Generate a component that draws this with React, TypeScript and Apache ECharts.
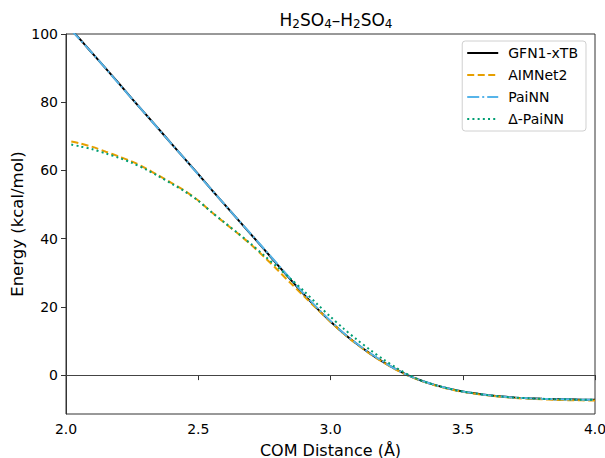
import React, { useEffect, useRef } from "react";
import * as echarts from "echarts";

const distances = [
  2.02, 2.05, 2.1, 2.15, 2.2, 2.25, 2.3, 2.35, 2.4, 2.45, 2.5, 2.55, 2.6, 2.65, 2.7, 2.75, 2.8, 2.85, 2.9, 2.95,
  3.0, 3.05, 3.1, 3.15, 3.2, 3.25, 3.3, 3.35, 3.4, 3.45, 3.5, 3.55, 3.6, 3.65, 3.7, 3.75, 3.8, 3.85, 3.9, 3.95, 4.0,
];

const gfn1xtb = [
  101.2, 98.7, 94.3, 89.9, 85.5, 81.0, 76.6, 72.2, 67.7, 63.3, 58.9, 54.4, 50.0, 45.6, 41.2, 36.8, 32.3, 27.9, 23.6, 19.5,
  15.7, 12.2, 9.1, 6.3, 3.8, 1.6, -0.3, -1.8, -3.0, -4.0, -4.8, -5.4, -5.9, -6.3, -6.6, -6.8, -6.95, -7.05, -7.1, -7.2, -7.25,
];

const aimnet2 = [
  68.5, 68.0, 66.9, 65.5, 64.1, 62.6, 60.7, 58.5, 56.3, 54.0, 51.2, 47.8, 44.6, 41.5, 38.2, 34.6, 30.8, 26.9, 23.1, 19.3,
  15.6, 12.1, 9.0, 6.2, 3.7, 1.5, -0.4, -1.9, -3.1, -4.1, -4.9, -5.5, -6.0, -6.4, -6.7, -6.95, -7.1, -7.25, -7.35, -7.4, -7.45,
];

const painn = [
  101.1, 98.6, 94.3, 89.9, 85.4, 81.0, 76.6, 72.1, 67.7, 63.3, 58.8, 54.4, 50.0, 45.6, 41.3, 36.9, 32.5, 28.1, 23.8, 19.7,
  15.9, 12.3, 9.2, 6.4, 3.9, 1.6, -0.3, -1.8, -3.0, -4.0, -4.8, -5.4, -5.9, -6.3, -6.6, -6.8, -6.95, -7.05, -7.1, -7.2, -7.25,
];

const deltaPainn = [
  67.6, 67.1, 66.2, 65.0, 63.7, 62.2, 60.4, 58.3, 56.1, 53.8, 51.1, 47.8, 44.7, 41.6, 38.4, 35.0, 31.6, 28.2, 24.6, 20.8,
  17.1, 13.6, 10.4, 7.4, 4.6, 2.1, -0.1, -1.8, -3.0, -4.0, -4.8, -5.4, -5.9, -6.3, -6.6, -6.8, -6.95, -7.05, -7.1, -7.2, -7.25,
];

const yTicks = [0, 20, 40, 60, 80, 100];
const FONT = "DejaVu Sans";

function pairs(ys: number[]) {
  return distances.map((x, i) => [x, ys[i]]);
}

export default function App() {
  const ref = useRef<HTMLDivElement>(null);
  useEffect(() => {
    if (!ref.current) return;
    const chart = echarts.init(ref.current, undefined, { renderer: "svg" });
    chart.setOption({
      animation: false,
      backgroundColor: "#ffffff",
      textStyle: { fontFamily: FONT },
      title: {
        text: "H{s|2}SO{s|4}–H{s|2}SO{s|4}",
        left: 331,
        textAlign: "center",
        top: 5,
        textStyle: {
          fontFamily: FONT,
          fontSize: 17,
          lineHeight: 20,
          fontWeight: "normal",
          color: "#000",
          rich: {
            s: { fontFamily: FONT, fontSize: 12, lineHeight: 10, verticalAlign: "bottom", color: "#000" },
          },
        },
      },
      grid: {
        left: 66,
        right: 10,
        top: 34,
        bottom: 44,
        containLabel: false,
        outerBoundsMode: "none",
        show: true,
        borderColor: "#333",
        borderWidth: 1,
        backgroundColor: "transparent",
      },
      legend: {
        orient: "vertical",
        right: 19,
        top: 41,
        itemWidth: 31,
        itemHeight: 14,
        itemGap: 8,
        padding: [5, 8, 5, 4],
        borderColor: "#d0d0d0",
        borderWidth: 1,
        borderRadius: 3,
        backgroundColor: "rgba(255,255,255,0.85)",
        itemStyle: { opacity: 0 },
        textStyle: { fontFamily: FONT, fontSize: 14, color: "#000", padding: [0, 0, 0, 5] },
        data: ["GFN1-xTB", "AIMNet2", "PaiNN", "Δ-PaiNN"],
      },
      xAxis: {
        type: "value",
        min: 2,
        max: 4,
        interval: 0.5,
        name: "COM Distance (Å)",
        nameLocation: "middle",
        nameGap: 28,
        nameMoveOverlap: false,
        nameTextStyle: { fontFamily: FONT, fontSize: 16, color: "#000" },
        axisLine: { show: true, lineStyle: { color: "#333", width: 1 } },
        axisTick: { show: true, inside: false, length: 5, lineStyle: { color: "#333" } },
        axisLabel: {
          fontFamily: FONT,
          fontSize: 14,
          color: "#000",
          margin: 8,
          formatter: (v: number) => v.toFixed(1),
        },
        splitLine: { show: false },
      },
      yAxis: {
        type: "value",
        min: -11.4,
        max: 100,
        name: "Energy (kcal/mol)",
        nameLocation: "middle",
        nameGap: 40,
        nameRotate: 90,
        nameMoveOverlap: false,
        nameTextStyle: { fontFamily: FONT, fontSize: 16.5, color: "#000" },
        axisLine: { show: true, onZero: false, lineStyle: { color: "#333", width: 1 } },
        axisTick: { show: true, length: 5, lineStyle: { color: "#333" }, customValues: yTicks },
        axisLabel: { fontFamily: FONT, fontSize: 14, color: "#000", margin: 8, customValues: yTicks },
        splitLine: { show: false },
      },
      series: [
        {
          name: "GFN1-xTB",
          type: "line",
          data: pairs(gfn1xtb),
          showSymbol: false,
          symbol: "none",
          smooth: 0.3,
          clip: true,
          lineStyle: { color: "#000000", width: 2, type: "solid" },
          itemStyle: { color: "#000000" },
          z: 2,
          markLine: {
            silent: true,
            symbol: ["none", "none"],
            label: { show: false },
            lineStyle: { color: "#444", width: 1.2, type: "solid" },
            data: [{ yAxis: 0 }],
          },
        },
        {
          name: "AIMNet2",
          type: "line",
          data: pairs(aimnet2),
          showSymbol: false,
          symbol: "none",
          smooth: 0.3,
          clip: true,
          lineStyle: { color: "#E69F00", width: 2, type: [7, 3.5] },
          itemStyle: { color: "#E69F00" },
          z: 3,
        },
        {
          name: "PaiNN",
          type: "line",
          data: pairs(painn),
          showSymbol: false,
          symbol: "none",
          smooth: 0.3,
          clip: true,
          lineStyle: { color: "#56B4E9", width: 2, type: [12, 3, 2, 3] },
          itemStyle: { color: "#56B4E9" },
          z: 4,
        },
        {
          name: "Δ-PaiNN",
          type: "line",
          data: pairs(deltaPainn),
          showSymbol: false,
          symbol: "none",
          smooth: 0.3,
          clip: true,
          lineStyle: { color: "#009E73", width: 2, type: [2, 3.2] },
          itemStyle: { color: "#009E73" },
          z: 5,
        },
      ],
    });
    return () => chart.dispose();
  }, []);
  return (
    <div
      ref={ref}
      style={{ position: "absolute", left: 0, top: 0, width: 605, height: 458, overflow: "hidden" }}
    />
  );
}
